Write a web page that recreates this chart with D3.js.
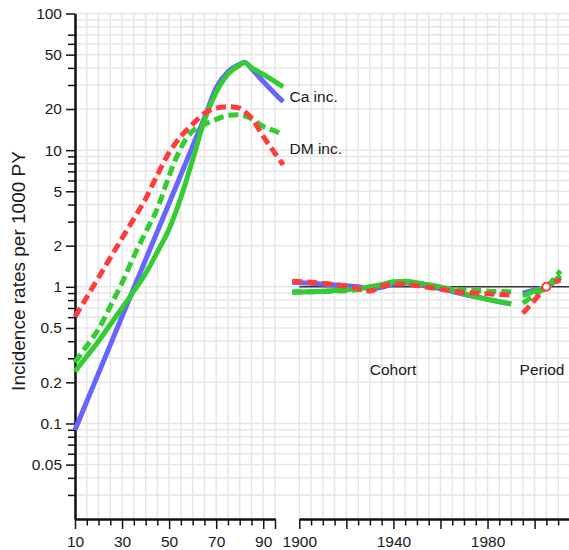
<!DOCTYPE html>
<html>
<head>
<meta charset="utf-8">
<script src="https://cdn.jsdelivr.net/npm/d3@7"></script>
<style>
  body { margin: 0; background: #fff; }
  svg { display: block; }
  text { font-family: "Liberation Sans", Arial, sans-serif; fill: #1a1a1a; }
</style>
</head>
<body>
<svg id="chart" width="569" height="550"></svg>
<script>
// ---- Age effects: incidence rates per 1000 PY ----
const ages = [10, 15, 20, 25, 30, 35, 40, 45, 50, 55, 60, 65, 70, 75, 80, 82, 85, 90, 95, 98.5];
const caIncA = [0.0897, 0.145, 0.233, 0.376, 0.607, 0.98, 1.58, 2.54, 4.09, 6.6, 10.7, 17.2, 28.5, 37.5, 42.5, 44, 39.5, 31.8, 25.9, 22.6];
const caIncB = [0.24, 0.31, 0.40, 0.53, 0.70, 0.93, 1.25, 1.8, 2.65, 4.5, 8.5, 16.5, 26.5, 36, 42, 43.7, 40.2, 35.8, 31.7, 29];
const dmIncA = [0.605, 0.84, 1.17, 1.63, 2.27, 3.15, 4.4, 6.6, 9.6, 12.6, 15.5, 18.6, 20.3, 20.8, 20.3, 19.2, 17.2, 12.6, 9.5, 7.8];
const dmIncB = [0.28, 0.37, 0.49, 0.72, 1.07, 1.67, 2.51, 3.74, 6.5, 10.4, 13.8, 15.4, 16.8, 18.0, 18.2, 17.8, 17.0, 14.9, 13.8, 12.9];

// ---- Cohort effects: rate ratios ----
const cohortYears = [1897, 1905, 1915, 1925, 1930, 1935, 1940, 1945, 1950, 1960, 1970, 1980, 1990];
const caCohortA = [1.08, 1.06, 1.03, 1.00, 0.97, 0.99, 1.05, 1.07, 1.04, 0.97, 0.88, 0.81, 0.75];
const caCohortB = [0.91, 0.92, 0.94, 0.97, 1.00, 1.04, 1.09, 1.10, 1.07, 1.00, 0.89, 0.81, 0.75];
const dmCohortA = [1.10, 1.08, 1.04, 0.97, 0.93, 1.01, 1.05, 1.05, 1.02, 0.96, 0.91, 0.89, 0.87];
const dmCohortB = [0.92, 0.92, 0.93, 0.95, 0.98, 1.02, 1.05, 1.06, 1.04, 0.99, 0.95, 0.93, 0.92];

// ---- Period effects: rate ratios (reference year 2005) ----
const periodYears = [1995, 2000, 2005, 2011];
const caPeriodA = [0.90, 0.95, 1.00, 1.17];
const caPeriodB = [0.86, 0.93, 1.00, 1.21];
const dmPeriodA = [0.64, 0.80, 1.00, 1.12];
const dmPeriodB = [0.76, 0.87, 1.00, 1.31];
const periodRef = 2005;

// ---- Axis ticks ----
const rateLabels = [0.05, 0.1, 0.2, 0.5, 1, 2, 5, 10, 20, 50, 100];
const rateMinor = [0.03, 0.04, 0.06, 0.07, 0.08, 0.09, 0.3, 0.4, 0.6, 0.7, 0.8, 0.9,
                   3, 4, 6, 7, 8, 9, 30, 40, 60, 70];
const rateGridExtra = [80, 90];
const ageLabels = [10, 30, 50, 70, 90];
const yearLabels = [1900, 1940, 1980];

const colBlue = "#6666ff", colGreen = "#33cc33", colRed = "#ff3b3b";
const gridCol = "#e6e6e6";

const svg = d3.select("#chart");

// scales: age and calendar time share the same units per year
const pxPerYear = 200 / 85;
const y = d3.scaleLog().domain([0.02, 100]).range([519, 13.5]);
const xAge = d3.scaleLinear().domain([10, 95]).range([75, 275]);
const x0Cal = 299.3;
const xCal = d3.scaleLinear().domain([1900, 2015]).range([x0Cal, x0Cal + 115 * pxPerYear]);

// grid
const gridG = svg.append("g");
const hGrid = [...rateLabels, ...rateMinor, ...rateGridExtra];
gridG.selectAll("line.h").data(hGrid).join("line")
  .attr("x1", 75).attr("x2", 569)
  .attr("y1", d => y(d)).attr("y2", d => y(d))
  .attr("stroke", gridCol).attr("stroke-width", 1.5);
gridG.selectAll("line.va").data(d3.range(10, 96, 5)).join("line")
  .attr("x1", d => xAge(d)).attr("x2", d => xAge(d))
  .attr("y1", y(100)).attr("y2", y(0.02))
  .attr("stroke", gridCol).attr("stroke-width", 1.5);
gridG.append("g").selectAll("line").data(d3.range(1900, 2016, 5)).join("line")
  .attr("x1", d => xCal(d)).attr("x2", d => xCal(d))
  .attr("y1", y(100)).attr("y2", y(0.02))
  .attr("stroke", gridCol).attr("stroke-width", 1.5);

// y axis
function styleAxis(g) {
  g.selectAll("path.domain").attr("stroke", "#111").attr("stroke-width", 2);
  g.selectAll(".tick line").attr("stroke", "#111").attr("stroke-width", 1.5);
  g.selectAll(".tick text").attr("font-size", 15.5).attr("fill", "#1a1a1a")
    .attr("font-family", '"Liberation Sans", Arial, sans-serif');
}
svg.append("g").attr("transform", "translate(75,0)")
  .call(d3.axisLeft(y).tickValues(rateMinor).tickSize(7).tickSizeOuter(0).tickFormat(""))
  .call(styleAxis);
svg.append("g").attr("transform", "translate(75,0)")
  .call(d3.axisLeft(y).tickValues(rateLabels).tickSize(9).tickPadding(4).tickSizeOuter(0)
    .tickFormat(d => String(d)))
  .call(styleAxis);

// x axes
const ageMinor = d3.range(10, 96, 5).filter(d => !ageLabels.includes(d) && d !== 95);
svg.append("g").attr("transform", "translate(0,519)")
  .call(d3.axisBottom(xAge).tickValues(ageMinor).tickSize(6.5).tickSizeOuter(0).tickFormat(""))
  .call(styleAxis);
svg.append("g").attr("transform", "translate(0,519)")
  .call(d3.axisBottom(xAge).tickValues([...ageLabels, 95]).tickSize(10).tickPadding(7).tickSizeOuter(0)
    .tickFormat(d => ageLabels.includes(d) ? String(d) : ""))
  .call(styleAxis);

const yearMajor = d3.range(1900, 2016, 20);
const yearMinor = d3.range(1900, 2016, 5).filter(d => !yearMajor.includes(d));
svg.append("g").attr("transform", "translate(0,519)")
  .call(d3.axisBottom(xCal).tickValues(yearMinor).tickSize(6.5).tickSizeOuter(0).tickFormat(""))
  .call(styleAxis);
svg.append("g").attr("transform", "translate(0,519)")
  .call(d3.axisBottom(xCal).tickValues(yearMajor).tickSize(10).tickPadding(7).tickSizeOuter(0)
    .tickFormat(d => yearLabels.includes(d) ? String(d) : ""))
  .call(styleAxis);

// reference line at rate ratio 1
svg.append("line")
  .attr("x1", xCal(1900)).attr("x2", 569)
  .attr("y1", y(1)).attr("y2", y(1))
  .attr("stroke", "#333").attr("stroke-width", 1.5);

// curves
function drawSeries(xs, ys, xScale, color, dashed) {
  const line = d3.line()
    .x((d, i) => xScale(xs[i]))
    .y(d => y(d))
    .curve(d3.curveMonotoneX);
  svg.append("path")
    .attr("d", line(ys))
    .attr("fill", "none")
    .attr("stroke", color)
    .attr("stroke-width", 5)
    .attr("stroke-linejoin", "round")
    .attr("stroke-dasharray", dashed ? "10,5" : null);
}
const series = [
  [caIncA, caCohortA, caPeriodA, colBlue, false],
  [caIncB, caCohortB, caPeriodB, colGreen, false],
  [dmIncB, dmCohortB, dmPeriodB, colGreen, true],
  [dmIncA, dmCohortA, dmPeriodA, colRed, true]
];
series.forEach(([a, c, p, col, dash]) => {
  drawSeries(ages, a, xAge, col, dash);
  drawSeries(cohortYears, c, xCal, col, dash);
  drawSeries(periodYears, p, xCal, col, dash);
});

// period reference point
svg.append("circle")
  .attr("cx", xCal(periodRef)).attr("cy", y(1)).attr("r", 4)
  .attr("fill", "#fff").attr("stroke", colRed).attr("stroke-width", 2);

// labels
const lab = (t, x, yy, anchor) => svg.append("text")
  .attr("x", x).attr("y", yy).attr("text-anchor", anchor)
  .attr("font-size", 15.5).text(t);
lab("Ca inc.", 289.5, 101.5, "start");
lab("DM inc.", 289.5, 154, "start");
lab("Cohort", 393, 374.5, "middle");
lab("Period", 542, 374.5, "middle");

svg.append("text")
  .attr("transform", "translate(25,271) rotate(-90)")
  .attr("text-anchor", "middle")
  .attr("font-size", 19)
  .text("Incidence rates per 1000 PY");
</script>
</body>
</html>
